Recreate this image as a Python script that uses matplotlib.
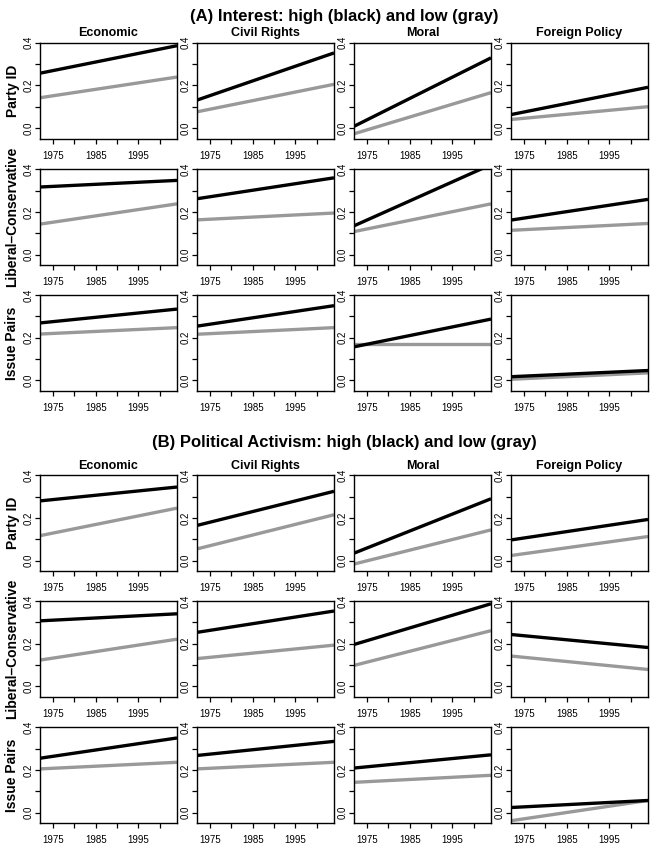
import matplotlib
matplotlib.use("Agg")
import matplotlib.pyplot as plt
from matplotlib.ticker import FixedLocator, FuncFormatter

plt.rcParams['font.family'] = ['Liberation Sans', 'DejaVu Sans']

# ---------------- data ----------------
years = [1972, 2004]
issues = ["Economic", "Civil Rights", "Moral", "Foreign Policy"]
measures = ["Party ID", "Liberal\u2013Conservative", "Issue Pairs"]
section_titles = ["(A) Interest: high (black) and low (gray)",
                  "(B) Political Activism: high (black) and low (gray)"]

# each entry: [start, end] per issue (Economic, Civil Rights, Moral, Foreign Policy)
A_party_high = [[0.257, 0.386], [0.131, 0.352], [0.008, 0.329], [0.063, 0.191]]
A_party_low = [[0.142, 0.239], [0.076, 0.205], [-0.027, 0.166], [0.040, 0.100]]
A_libcon_high = [[0.317, 0.348], [0.262, 0.360], [0.135, 0.422], [0.162, 0.259]]
A_libcon_low = [[0.143, 0.238], [0.163, 0.195], [0.108, 0.238], [0.114, 0.146]]
A_pairs_high = [[0.269, 0.334], [0.254, 0.350], [0.157, 0.287], [0.017, 0.046]]
A_pairs_low = [[0.217, 0.247], [0.216, 0.247], [0.170, 0.170], [0.005, 0.035]]

B_party_high = [[0.280, 0.345], [0.165, 0.325], [0.035, 0.290], [0.097, 0.193]]
B_party_low = [[0.117, 0.246], [0.055, 0.215], [-0.016, 0.144], [0.024, 0.113]]
B_libcon_high = [[0.307, 0.340], [0.253, 0.353], [0.196, 0.387], [0.243, 0.182]]
B_libcon_low = [[0.123, 0.221], [0.130, 0.193], [0.098, 0.261], [0.142, 0.079]]
B_pairs_high = [[0.255, 0.350], [0.268, 0.334], [0.209, 0.271], [0.024, 0.057]]
B_pairs_low = [[0.205, 0.236], [0.205, 0.236], [0.142, 0.175], [-0.038, 0.057]]

sections = [
    [(A_party_high, A_party_low), (A_libcon_high, A_libcon_low), (A_pairs_high, A_pairs_low)],
    [(B_party_high, B_party_low), (B_libcon_high, B_libcon_low), (B_pairs_high, B_pairs_low)],
]

# ---------------- layout (pixels) ----------------
W, H = 652, 844
fig = plt.figure(figsize=(W / 100, H / 100), dpi=100)
fig.patch.set_facecolor("white")

col_left = [40, 197, 354, 511]
panel_w = 137
row_tops = [[42.7, 169.3, 295.0], [475.3, 601.0, 727.3]]
panel_h = 96
title_y = [16, 443]

black = "#000000"
gray = "#999999"

for s, sec in enumerate(sections):
    fig.text(344 / W, 1 - title_y[s] / H, section_titles[s], ha="center", va="center",
             fontsize=12, fontweight="bold")
    for r, (high, low) in enumerate(sec):
        top = row_tops[s][r]
        for c in range(4):
            ax = fig.add_axes([col_left[c] / W, 1 - (top + panel_h) / H, panel_w / W, panel_h / H])
            ax.plot(years, low[c], color=gray, lw=2.4, solid_capstyle="butt")
            ax.plot(years, high[c], color=black, lw=2.4, solid_capstyle="butt")
            ax.set_xlim(1972, 2004)
            ax.set_ylim(-0.05, 0.40)
            ax.xaxis.set_major_locator(FixedLocator([1975, 1980, 1985, 1990, 1995, 2000]))
            ax.xaxis.set_major_formatter(FuncFormatter(
                lambda v, p: str(int(round(v))) if int(round(v)) in (1975, 1985, 1995) else ""))
            ax.yaxis.set_major_locator(FixedLocator([0.0, 0.1, 0.2, 0.3, 0.4]))
            ax.yaxis.set_major_formatter(FuncFormatter(
                lambda v, p: ("%.1f" % v) if round(v * 10) % 2 == 0 else ""))
            ax.tick_params(axis="both", direction="out", length=3.5, width=0.9,
                           labelsize=7, color="black")
            ax.tick_params(axis="x", pad=5)
            ax.tick_params(axis="y", pad=1)
            for lab in ax.get_yticklabels():
                lab.set_rotation(90)
                lab.set_va("center")
                lab.set_ha("right")
            for sp in ax.spines.values():
                sp.set_linewidth(1.0)
            if r == 0:
                ax.annotate(issues[c], xy=(0.5, 1.0), xycoords="axes fraction",
                            xytext=(0, 6.8), textcoords="offset points",
                            ha="center", va="center", fontsize=9, fontweight="bold")
        fig.text(12.5 / W, 1 - (top + panel_h / 2) / H, measures[r], rotation=90,
                 ha="center", va="center", fontsize=10, fontweight="bold")

fig.savefig("out.png", dpi=100, facecolor="white")
